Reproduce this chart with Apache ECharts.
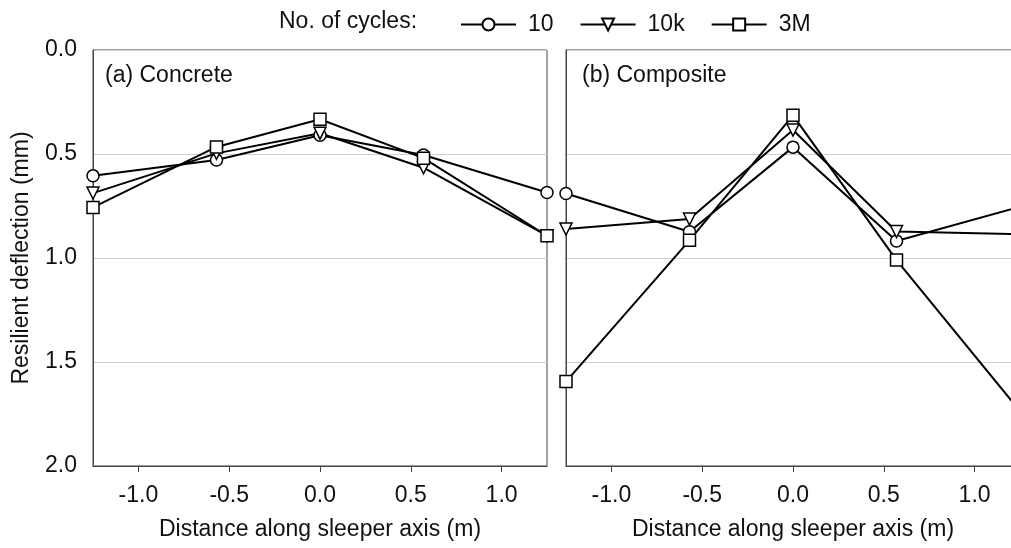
<!DOCTYPE html>
<html>
<head>
<meta charset="utf-8">
<script src="https://cdn.jsdelivr.net/npm/echarts@6/dist/echarts.min.js"></script>
<style>
  html, body { margin: 0; padding: 0; background: #fff; }
  #chart { width: 1011px; height: 548px; }
</style>
</head>
<body>
<div id="chart"></div>
<script>
// Measurement positions along the sleeper (m)
const positions = [-1.25, -0.57, 0, 0.57, 1.25];
const cycleNames = ['10', '10k', '3M'];
const xTicks = [-1.0, -0.5, 0.0, 0.5, 1.0];
const yTicks = [0.0, 0.5, 1.0, 1.5, 2.0];

// Resilient deflection (mm), concrete sleeper
const concrete10 = [0.605, 0.529, 0.41, 0.505, 0.685];
const concrete10k = [0.688, 0.497, 0.40, 0.566, 0.893];
const concrete3M = [0.757, 0.466, 0.333, 0.52, 0.893];

// Resilient deflection (mm), composite sleeper
const composite10 = [0.69, 0.874, 0.467, 0.918, 0.754];
const composite10k = [0.861, 0.813, 0.385, 0.873, 0.886];
const composite3M = [1.594, 0.915, 0.314, 1.01, 1.736];

const FONT = '"Liberation Sans", Arial, sans-serif';
const TEXT = '#111';
const FRAME = '#444';

const symbols = {
  '10': 'circle',
  '10k': 'path://M0,0 L10,0 L5,9 Z',
  '3M': 'rect'
};

function pairs(values) {
  return positions.map((x, i) => [x, values[i]]);
}

function makeSeries(name, values, idx) {
  return {
    name: name,
    type: 'line',
    xAxisIndex: idx,
    yAxisIndex: idx,
    data: pairs(values),
    symbol: symbols[name],
    symbolSize: 12,
    clip: false,
    lineStyle: { color: '#000', width: 2 },
    itemStyle: { color: '#fff', borderColor: '#000', borderWidth: 1.5 },
    emphasis: { disabled: true },
    animation: false
  };
}

function xAxisFor(idx) {
  return {
    type: 'value',
    gridIndex: idx,
    min: -1.25,
    max: 1.25,
    name: 'Distance along sleeper axis (m)',
    nameLocation: 'middle',
    nameGap: 52,
    nameTextStyle: { fontSize: 23, color: TEXT, fontFamily: FONT },
    axisLine: { show: true, onZero: false, lineStyle: { color: FRAME, width: 1 } },
    axisTick: { show: true, customValues: xTicks, length: 6, inside: false, lineStyle: { color: FRAME } },
    axisLabel: {
      customValues: xTicks,
      margin: 18,
      fontSize: 23,
      color: TEXT,
      fontFamily: FONT,
      formatter: v => v.toFixed(1)
    },
    splitLine: { show: false }
  };
}

function yAxisFor(idx) {
  const ax = {
    type: 'value',
    gridIndex: idx,
    min: 0,
    max: 2,
    interval: 0.5,
    inverse: true,
    axisLine: { show: true, onZero: false, lineStyle: { color: FRAME, width: 1 } },
    axisTick: { show: false },
    axisLabel: {
      show: idx === 0,
      margin: 16,
      fontSize: 23,
      color: TEXT,
      fontFamily: FONT,
      formatter: v => v.toFixed(1)
    },
    splitLine: { show: true, lineStyle: { color: '#cfcfcf', width: 1 } }
  };
  if (idx === 0) {
    ax.name = 'Resilient deflection (mm)';
    ax.nameLocation = 'middle';
    ax.nameGap = 60;
    ax.nameRotate = 90;
    ax.nameTextStyle = { fontSize: 23, color: TEXT, fontFamily: FONT };
  }
  return ax;
}

const chart = echarts.init(document.getElementById('chart'), null, { renderer: 'canvas' });

chart.setOption({
  backgroundColor: '#fff',
  animation: false,
  grid: [
    { left: 93, top: 50, width: 454, height: 416, outerBoundsMode: 'none', show: true, borderColor: FRAME, borderWidth: 1, backgroundColor: 'transparent' },
    { left: 566, top: 50, width: 454, height: 416, outerBoundsMode: 'none', show: true, borderColor: FRAME, borderWidth: 1, backgroundColor: 'transparent' }
  ],
  xAxis: [xAxisFor(0), xAxisFor(1)],
  yAxis: [yAxisFor(0), yAxisFor(1)],
  legend: {
    data: cycleNames,
    left: 460,
    top: 13,
    padding: 0,
    itemWidth: 55,
    itemHeight: 15,
    itemGap: 26,
    selectedMode: false,
    textStyle: { fontSize: 23, color: TEXT, fontFamily: FONT, padding: [0, 0, 0, 7] }
  },
  graphic: [
    { type: 'text', left: 279, top: 10, style: { text: 'No. of cycles:', fontSize: 23, fill: TEXT, fontFamily: FONT } },
    { type: 'text', left: 105, top: 64, style: { text: '(a) Concrete', fontSize: 23, fill: TEXT, fontFamily: FONT } },
    { type: 'text', left: 582, top: 64, style: { text: '(b) Composite', fontSize: 23, fill: TEXT, fontFamily: FONT } }
  ],
  series: [
    makeSeries('10', concrete10, 0),
    makeSeries('10k', concrete10k, 0),
    makeSeries('3M', concrete3M, 0),
    makeSeries('10', composite10, 1),
    makeSeries('10k', composite10k, 1),
    makeSeries('3M', composite3M, 1)
  ]
});
</script>
</body>
</html>
